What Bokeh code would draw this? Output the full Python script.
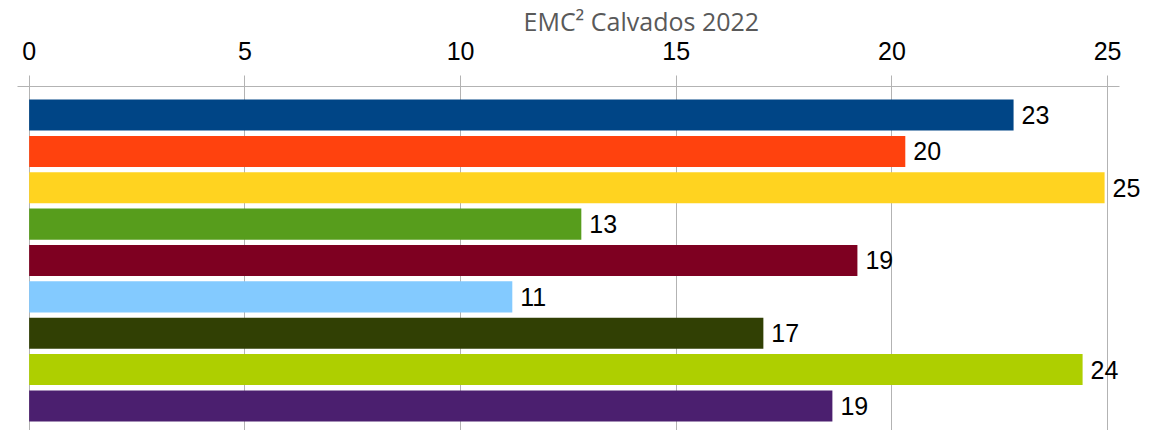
from bokeh.plotting import figure
from bokeh.models import ColumnDataSource, Range1d, FixedTicker, LabelSet
from bokeh.core.properties import value
from bokeh.embed import file_html
from bokeh.resources import INLINE

# Data
categories = ["A", "B", "C", "D", "E", "F", "G", "H", "I"]
values = [22.82, 20.31, 24.93, 12.80, 19.20, 11.20, 17.02, 24.42, 18.62]
labels = ["23", "20", "25", "13", "19", "11", "17", "24", "19"]
colors = ["#004586", "#ff420e", "#ffd320", "#579d1c", "#7e0021",
          "#83caff", "#314004", "#aecf00", "#4b1f6f"]
ticks = [0, 5, 10, 15, 20, 25]
title_text = "EMC² Calvados 2022"

pos = list(range(len(categories)))
src = ColumnDataSource(dict(y=pos, v=values, lab=labels, c=colors))

p = figure(width=1160, height=430, output_backend="svg", toolbar_location=None,
           x_range=Range1d(-0.27, 26.11), y_range=Range1d(8.676, -0.786),
           x_axis_location="above", min_border_left=17, min_border_right=5,
           min_border_bottom=0, min_border_top=0)
p.outline_line_color = None
p.background_fill_color = "white"

p.title.text = title_text
p.title.align = "left"
p.title.text_font = "Open Sans"
p.title.text_font_size = "25px"
p.title.text_font_style = "normal"
p.title.text_color = "#595959"
p.title.offset = 506
p.title.standoff = 2

p.hbar(y="y", left=0, right="v", height=0.855, color="c", line_color=None, source=src)

p.add_layout(LabelSet(x="v", y="y", text="lab", source=src, x_offset=8,
                      text_baseline="middle", text_align="left",
                      text_font=value("Liberation Sans"), text_font_size="25px",
                      text_color="black"))

xa = p.xaxis[0]
xa.ticker = FixedTicker(ticks=ticks)
xa.bounds = (-0.27, 25.27)
xa.minor_tick_line_color = None
xa.major_tick_out = 11
xa.major_tick_in = 0
xa.major_tick_line_color = "#b3b3b3"
xa.axis_line_color = "#b3b3b3"
xa.major_label_standoff = 16
xa.major_label_text_font = "Liberation Sans"
xa.major_label_text_font_size = "25px"
xa.major_label_text_color = "black"

p.yaxis.visible = False
p.ygrid.visible = False
p.xgrid.ticker = FixedTicker(ticks=ticks)
p.xgrid.grid_line_color = "#b3b3b3"

open("out.html", "w").write(file_html(p, INLINE))
